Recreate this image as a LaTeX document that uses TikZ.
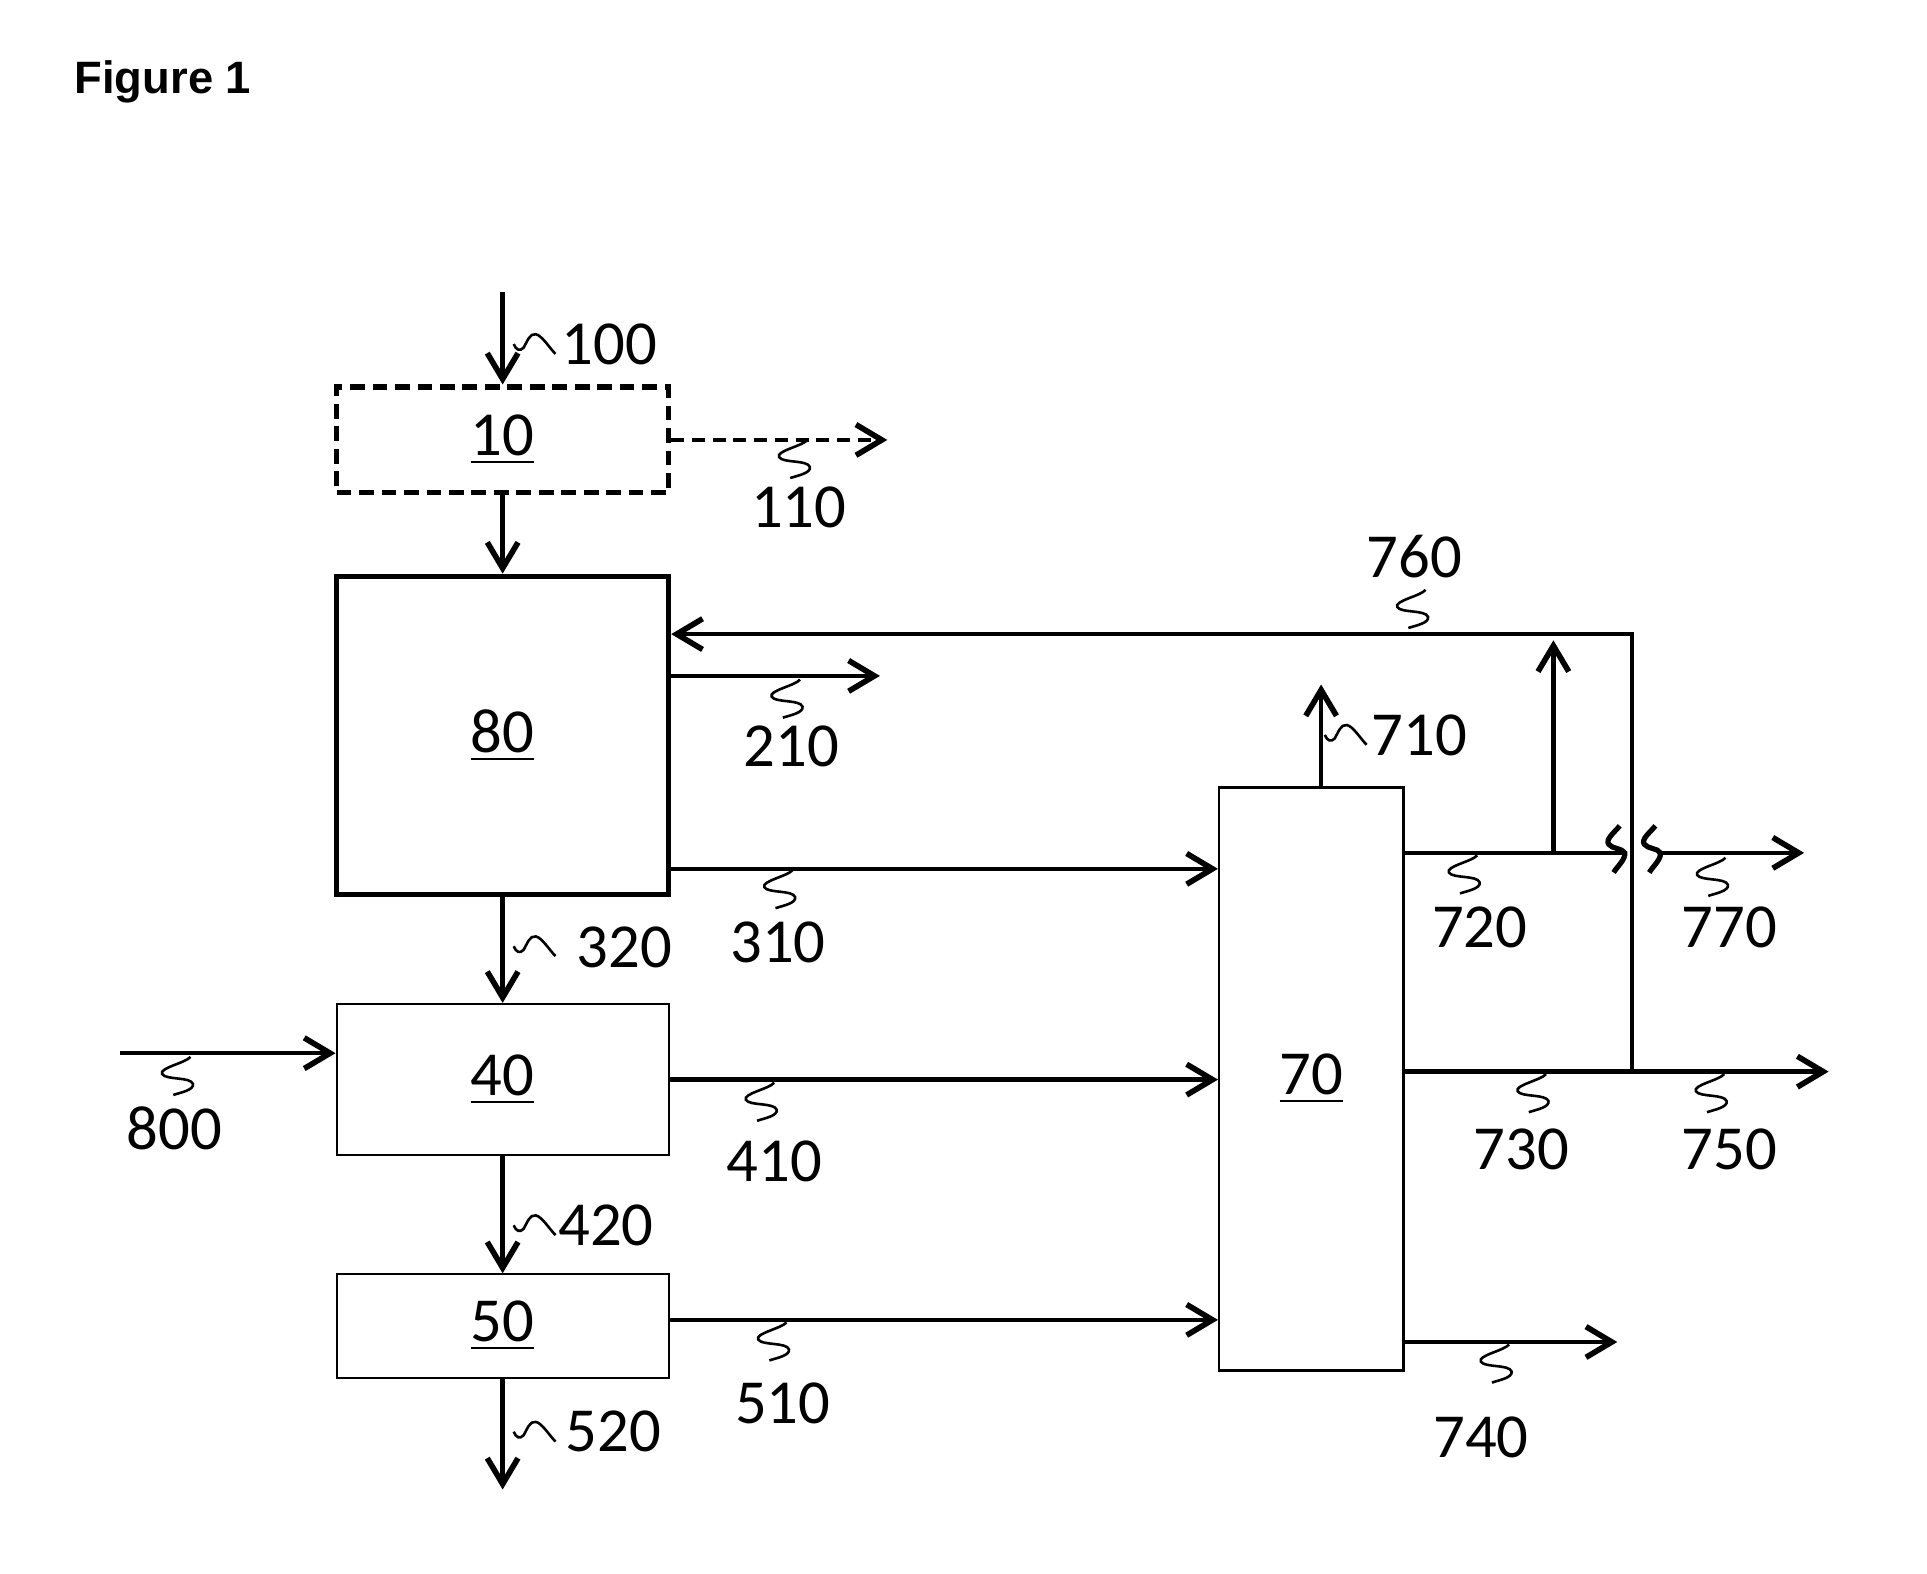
\documentclass[tikz,border=0pt]{standalone}
\usepackage{fontspec}
\setmainfont{Carlito}
\newfontfamily\headfont{Liberation Sans}
\usepackage{tikz}
\usetikzlibrary{arrows.meta,positioning,calc}
\newcommand{\numfont}{\fontsize{14.5}{17}\selectfont}
\tikzset{
  unit/.style={draw=black,fill=white,line width=0.5pt,minimum width=2.7cm,
               inner sep=0pt,font=\numfont},
  bigunit/.style={unit,line width=1.2pt},
  optunit/.style={unit,line width=1.2pt,dash pattern=on 3.4pt off 1.8pt},
  flow/.style={-{Straight Barb[length=2.1mm,width=2.5mm,line width=1.3pt]},line width=1pt},
  pipe/.style={line width=1pt},
  lead/.style={line width=0.6pt},
  num/.style={font=\numfont,inner sep=0pt},
  sq/.pic={\draw[lead] (0,0) .. controls (-4,5) and (-26,9) .. (-23,14)
             .. controls (-20,19) and (0,16) .. (2,22)
             .. controls (3,27) and (-8,29) .. (-14,31);},
  tl/.pic={\draw[lead] (0,0) .. controls (2,5) and (5,6) .. (8,3)
             .. controls (11,-2) and (13,-9) .. (18,-8)
             .. controls (23,-7) and (29,3) .. (34,8);},
  brk/.pic={\draw[pipe,line width=1.2pt] (0,0) .. controls (-4,5) and (-12,11) .. (-9,15)
             .. controls (-6,19) and (2,18) .. (4,22)
             .. controls (5,27) and (-2,33) .. (-5,38);}
}

\begin{document}
\begin{tikzpicture}[x=0.01cm,y=-0.01cm]
\useasboundingbox (0,0) rectangle (1568,1280);
\node[anchor=base west,inner sep=0pt,font=\headfont\bfseries\fontsize{10.5}{12}\selectfont]
  (fig) at (60,76) {Figure 1};

% units
\node[optunit,minimum height=0.86cm] (u10) at (409,358) {\underline{10}};
\node[bigunit,minimum height=2.59cm] (u80) at (409,598.5) {\underline{80}};
\node[unit,minimum height=1.23cm] (u40) at (409,878.5) {\underline{40}};
\node[unit,minimum height=0.84cm] (u50) at (409,1079) {\underline{50}};
\node[unit,minimum width=1.5cm,minimum height=4.74cm] (u70) at (1067,878) {\underline{70}};

% free ends and junctions
\coordinate (s100) at (409,238);
\coordinate (e110) at (722,358);
\coordinate (e210) at (716,550);
\coordinate (y310) at (0,707);
\coordinate (s800) at (98,857);
\coordinate (y510) at (0,1074);
\coordinate (e520) at (409,1212);
\coordinate (e710) at (1075,557);
\coordinate (k720) at (1322,694);
\coordinate (k770) at (1351,694);
\coordinate (e770) at (1468,694);
\coordinate (j720) at (1264,694);
\coordinate (t720) at (1264,521);
\coordinate (j730) at (1328,872);
\coordinate (c760) at (1328,516);
\coordinate (e750) at (1488,872);
\coordinate (e740) at (1316,1092);

% streams
\draw[flow] (s100) -- (u10);
\draw[flow,dash pattern=on 3pt off 1.8pt] (u10.east) -- (e110);
\draw[flow] (u10) -- (u80);
\draw[flow] (u80.east |- e210) -- (e210);
\draw[flow] (u80.east |- y310) -- (u70.west |- y310);
\draw[flow] (u80) -- (u40);
\draw[flow] (s800) -- (u40.west |- s800);
\draw[flow] (u40.east) -- (u40.east -| u70.west);
\draw[flow] (u40) -- (u50);
\draw[flow] (u50.east |- y510) -- (u70.west |- y510);
\draw[flow] (u50) -- (e520);
\draw[flow] (u70.north -| e710) -- (e710);
\draw[pipe] (u70.east |- k720) -- (k720);
\draw[flow] (j720) -- (t720);
\draw[flow] (k770) -- (e770);
\draw[flow] (u70.east |- j730) -- (e750);
\draw[flow] (j730) -- (c760) -- (u80.east |- c760);
\draw[flow] (u70.east |- e740) -- (e740);
\pic at (1318,672) {brk};
\pic at (1347,672) {brk};

% stream numbers
\pic at (418,280) {tl};   \node[num] (l100) at (496,280) {100};
\pic at (657,358) {sq};   \node[num] (l110) at (650,413) {110};
\pic at (651,553) {sq};   \node[num] (l210) at (644,607) {210};
\pic at (645,708) {sq};   \node[num] (l310) at (633,767) {310};
\pic at (418,770) {tl};   \node[num] (l320) at (508,771) {320};
\pic at (630,881) {sq};   \node[num] (l410) at (630,945) {410};
\pic at (418,997) {tl};   \node[num] (l420) at (493,997) {420};
\pic at (640,1076) {sq};  \node[num] (l510) at (637,1142) {510};
\pic at (418,1165) {tl};  \node[num] (l520) at (499,1165) {520};
\pic at (1078,598) {tl};  \node[num] (l710) at (1155,598) {710};
\pic at (1202,696) {sq};  \node[num] (l720) at (1204,755) {720};
\pic at (1258,874) {sq};  \node[num] (l730) at (1238,935) {730};
\pic at (1228,1094) {sq}; \node[num] (l740) at (1205,1170) {740};
\pic at (1403,874) {sq};  \node[num] (l750) at (1407,935) {750};
\pic at (1160,480) {sq};  \node[num] (l760) at (1151,453) {760};
\pic at (1404,698) {sq};  \node[num] (l770) at (1407,755) {770};
\pic at (155,860) {sq};   \node[num] (l800) at (142,918) {800};
\end{tikzpicture}
\end{document}
